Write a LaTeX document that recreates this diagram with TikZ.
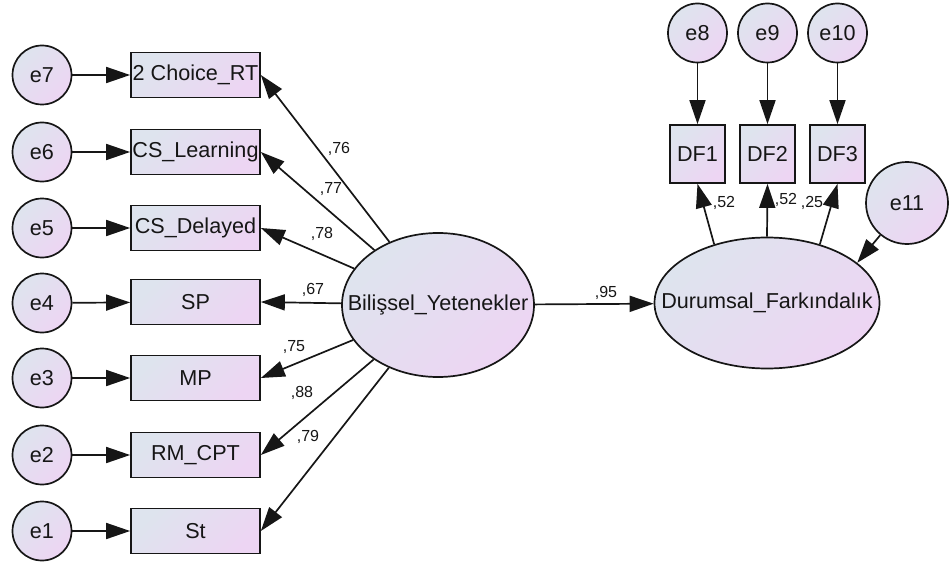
\documentclass[tikz,border=0pt]{standalone}
\usepackage{fontspec}
\setmainfont{Liberation Sans}
\usetikzlibrary{arrows.meta,shapes.geometric}
\definecolor{shadeA}{RGB}{222,228,238}
\definecolor{shadeB}{RGB}{237,213,243}
\definecolor{ink}{RGB}{22,22,22}
\begin{document}
\begin{tikzpicture}[x=1pt,y=-1pt,
  base/.style={draw=ink, line width=1.7pt, top color=shadeA, bottom color=shadeB,
    shading angle=45, text=ink, font=\fontsize{21.6}{24}\selectfont, inner sep=0pt},
  err/.style={base, circle, minimum size=59pt},
  obs/.style={base, rectangle, minimum width=129pt, minimum height=45pt},
  dfbox/.style={base, rectangle, minimum width=55pt, minimum height=58pt},
  lat/.style={base, ellipse},
  link/.style={draw=ink, line width=1.7pt, -{Triangle[length=24pt,width=16pt]}},
  coef/.style={font=\fontsize{16}{18}\selectfont, text=ink, inner sep=0pt}
]
\useasboundingbox (0,0) rectangle (952,567);

% error terms of the cognitive indicators
\node[err] (e7) at (42,75)  {e7};
\node[err] (e6) at (42,152) {e6};
\node[err] (e5) at (42,228) {e5};
\node[err] (e4) at (42,303) {e4};
\node[err] (e3) at (42,378) {e3};
\node[err] (e2) at (42,455) {e2};
\node[err] (e1) at (42,531) {e1};

% observed cognitive indicators
\node[obs] (r7) at (195.5,75)  {2 Choice\_RT};
\node[obs] (r6) at (195.5,152) {CS\_Learning};
\node[obs] (r5) at (195.5,228) {CS\_Delayed};
\node[obs] (r4) at (195.5,302) {SP};
\node[obs] (r3) at (195.5,378) {MP};
\node[obs] (r2) at (195.5,455) {RM\_CPT};
\node[obs] (r1) at (195.5,531) {St};

% latent variables
\node[lat, minimum width=192pt, minimum height=144pt] (B) at (438,305)
  {\makebox[0pt]{Bilişsel\_Yetenekler}};
\node[lat, minimum width=225pt, minimum height=131pt] (D) at (767,303)
  {\makebox[0pt]{Durumsal\_Farkındalık}};

% situational awareness indicators and their errors
\node[dfbox] (d1) at (697.5,154) {DF1};
\node[dfbox] (d2) at (767.5,154) {DF2};
\node[dfbox] (d3) at (837.5,154) {DF3};
\node[err] (e8)  at (697.5,33) {e8};
\node[err] (e9)  at (767.5,33) {e9};
\node[err] (e10) at (837.5,33) {e10};
\node[err, minimum size=82pt] (e11) at (907,203) {e11};

% error paths
\foreach \i in {1,...,7} { \draw[link] (e\i) -- (r\i); }
\draw[link] (e8) -- (d1);
\draw[link] (e9) -- (d2);
\draw[link] (e10) -- (d3);
\draw[link] (e11) -- (D.24);

% loadings
\foreach \i in {1,...,7} { \draw[link] (B) -- (r\i.east); }
\draw[link] (B) -- (D);
\draw[link] (D.132) -- (d1.south);
\draw[link] (D.90)  -- (d2.south);
\draw[link] (D.48)  -- (d3.south);

% standardized coefficients
\node[coef] (c7) at (339,149) {,76};
\node[coef] (c6) at (331,189) {,77};
\node[coef] (c5) at (322,234) {,78};
\node[coef] (c4) at (313,290) {,67};
\node[coef] (c3) at (294,347) {,75};
\node[coef] (c2) at (302,393) {,88};
\node[coef] (c1) at (308,437) {,79};
\node[coef] (cB) at (606,293) {,95};
\node[coef] (cd1) at (724,203) {,52};
\node[coef] (cd2) at (786,200) {,52};
\node[coef] (cd3) at (812,203) {,25};
\end{tikzpicture}
\end{document}
